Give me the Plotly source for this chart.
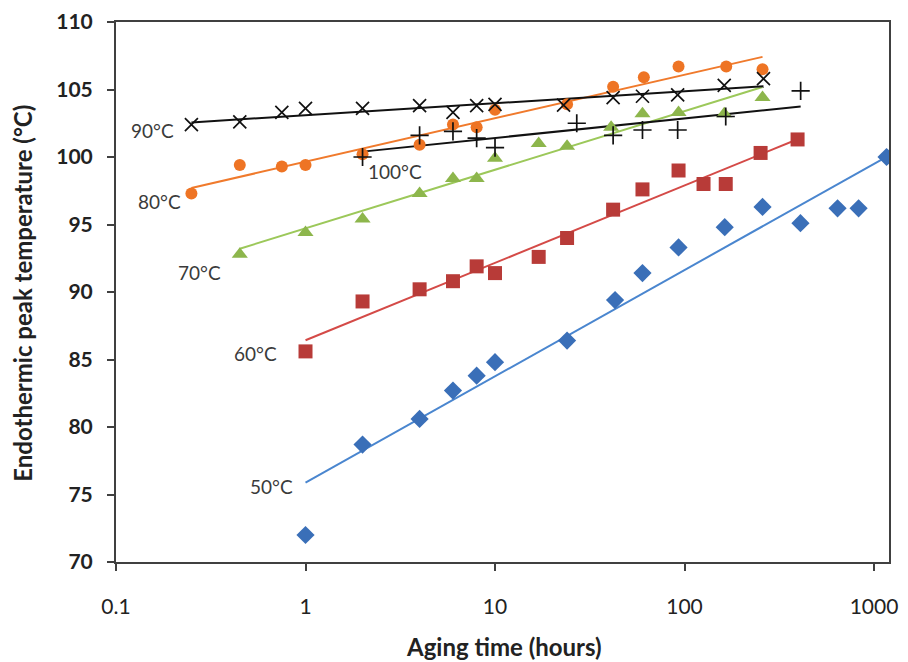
import numpy as np
import plotly.graph_objects as go

# ---- data ----
t50 = [1, 2, 4, 6, 8, 10, 24, 43, 60, 93, 163, 258, 409, 642, 829, 1164]
y50 = [72.0, 78.7, 80.6, 82.7, 83.8, 84.8, 86.4, 89.4, 91.4, 93.3, 94.8, 96.3, 95.1, 96.2, 96.2, 100.0]

t60 = [1, 2, 4, 6, 8, 10, 17, 24, 42, 60, 93, 126, 165, 252, 395]
y60 = [85.6, 89.3, 90.2, 90.8, 91.9, 91.4, 92.6, 94.0, 96.1, 97.6, 99.0, 98.0, 98.0, 100.3, 101.3]

t70 = [0.45, 1, 2, 4, 6, 8, 10, 17, 24, 41, 60, 93, 162, 258]
y70 = [92.8, 94.4, 95.4, 97.3, 98.4, 98.4, 99.9, 101.0, 100.8, 102.2, 103.2, 103.3, 103.2, 104.4]

t80 = [0.25, 0.45, 0.75, 1, 2, 4, 6, 8, 10, 24, 42, 61, 93, 166, 258]
y80 = [97.3, 99.4, 99.3, 99.4, 100.2, 100.9, 102.4, 102.2, 103.5, 103.9, 105.2, 105.9, 106.7, 106.7, 106.5]

t90 = [0.25, 0.45, 0.75, 1, 2, 4, 6, 8, 10, 23, 42, 60, 92, 162, 261]
y90 = [102.4, 102.6, 103.3, 103.6, 103.6, 103.8, 103.3, 103.8, 103.9, 103.85, 104.4, 104.5, 104.6, 105.3, 105.8]

t100 = [2, 4, 6, 8, 10, 27, 42, 60, 92, 165, 410]
y100 = [100.0, 101.6, 101.9, 101.4, 100.7, 102.5, 101.6, 102.0, 102.0, 103.0, 104.9]

series_names = ["50°C", "60°C", "70°C", "80°C", "90°C", "100°C"]
x_tick_vals = [0.1, 1, 10, 100, 1000]
x_tick_text = ["0.1", "1", "10", "100", "1000"]

# ---- styles ----
styles = {
    "50°C": dict(symbol="diamond", size=14, mcolor="#3A6FB8", lcolor="#4A86CF"),
    "60°C": dict(symbol="square", size=14, mcolor="#B83B38", lcolor="#D44A47"),
    "70°C": dict(symbol="triangle-up", size=14, mcolor="#8DB64C", lcolor="#9CC85A"),
    "80°C": dict(symbol="circle", size=12, mcolor="#EE7424", lcolor="#F07A2C"),
    "90°C": dict(symbol="x-thin", size=13, mcolor="#111111", lcolor="#111111"),
    "100°C": dict(symbol="cross-thin", size=13, mcolor="#111111", lcolor="#111111"),
}

data = {
    "50°C": (t50, y50), "60°C": (t60, y60), "70°C": (t70, y70),
    "80°C": (t80, y80), "90°C": (t90, y90), "100°C": (t100, y100),
}

fig = go.Figure()

# trendlines (logarithmic fit, as in the original)
for name in series_names:
    t, y = data[name]
    lt = np.log10(np.array(t, dtype=float))
    b, a = np.polyfit(lt, np.array(y, dtype=float), 1)
    xs = np.array([min(t), max(t)], dtype=float)
    ys = a + b * np.log10(xs)
    fig.add_trace(go.Scatter(x=xs, y=ys, mode="lines",
                             line=dict(color=styles[name]["lcolor"], width=2),
                             showlegend=False, hoverinfo="skip"))

for name in series_names:
    t, y = data[name]
    s = styles[name]
    marker = dict(symbol=s["symbol"], size=s["size"], color=s["mcolor"])
    if s["symbol"].endswith("-thin"):
        marker["line"] = dict(color=s["mcolor"], width=1.7)
    fig.add_trace(go.Scatter(x=t, y=y, mode="markers", marker=marker,
                             name=name, showlegend=False))

label_pos = {
    "90°C": (-0.810, 101.93),
    "80°C": (-0.768, 96.67),
    "70°C": (-0.557, 91.41),
    "100°C": (0.472, 98.96),
    "60°C": (-0.266, 85.48),
    "50°C": (-0.182, 75.56),
}
for name, (lx, ly) in label_pos.items():
    fig.add_annotation(x=lx, y=ly, xref="x", yref="y", text=name, showarrow=False,
                       xanchor="center", yanchor="middle",
                       font=dict(family="Lato", size=19, color="#3a3a3a"))

fig.add_annotation(x=0.502, y=-0.156, xref="paper", yref="paper",
                   xanchor="center", yanchor="middle",
                   text="Aging time (hours)", showarrow=False,
                   font=dict(family="Lato", size=24, color="#222222", weight="bold"))
fig.add_annotation(x=-0.122, y=0.498, xref="paper", yref="paper",
                   xanchor="center", yanchor="middle",
                   text="Endothermic peak temperature (°C)", textangle=-90, showarrow=False,
                   font=dict(family="Lato", size=24, color="#222222", weight="bold"))

axis_common = dict(showline=True, linecolor="#404040", linewidth=2, mirror=True,
                   ticks="outside", ticklen=7, tickwidth=2, tickcolor="#404040",
                   showgrid=False, zeroline=False, automargin=False)

fig.update_xaxes(type="log", range=[-1, 3.079], tickvals=x_tick_vals, ticktext=x_tick_text,
                 tickfont=dict(family="Lato", size=21, color="#222222"),
                 ticklabelstandoff=18, **axis_common)
fig.update_yaxes(range=[70, 110], dtick=5, tick0=70,
                 tickfont=dict(family="Lato", size=21, color="#222222", weight="bold"),
                 ticklabelstandoff=10, **axis_common)

fig.update_layout(width=908, height=662, margin=dict(l=116, r=19, t=22, b=100),
                  plot_bgcolor="white", paper_bgcolor="white")

fig.write_html("out.html")
